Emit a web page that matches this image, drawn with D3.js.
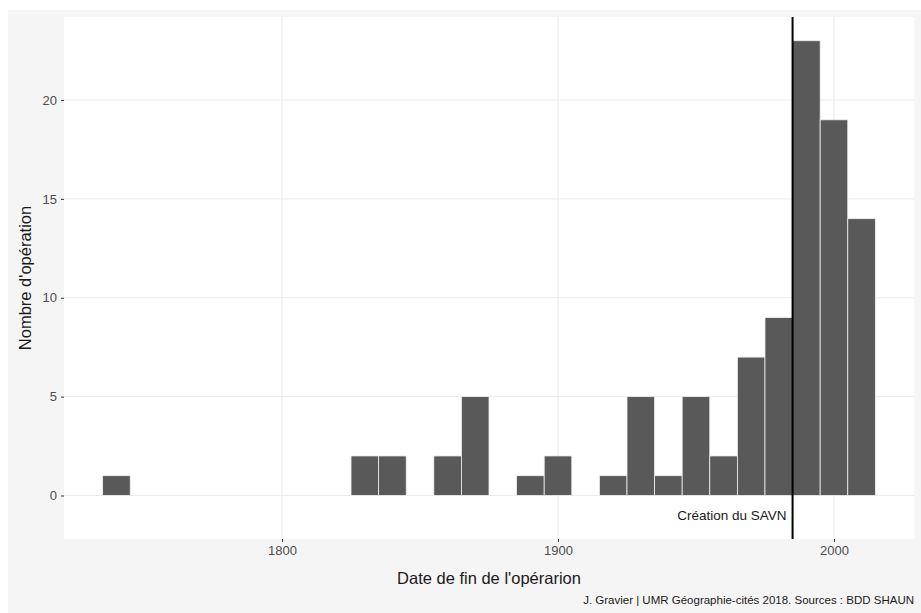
<!DOCTYPE html>
<html>
<head>
<meta charset="utf-8">
<script src="https://cdn.jsdelivr.net/npm/d3@7"></script>
<style>
  body { margin: 0; background: #fff; }
  svg { font-family: "Liberation Sans", Arial, sans-serif; }
</style>
</head>
<body>
<svg width="921" height="613"></svg>
<script>

// histogram bins, 10 years wide (start year of each bin)
let binStarts = [1735, 1825, 1835, 1855, 1865, 1885, 1895, 1915, 1925, 1935, 1945, 1955, 1965, 1975, 1985, 1995, 2005];
let counts    = [1,    2,    2,    2,    5,    1,    2,    1,    5,    1,    5,    2,    7,    9,    23,   19,   14];
let binWidth = 10;
let xTicks = [1800, 1900, 2000];
let yTicks = [0, 5, 10, 15, 20];
let savnYear = 1985;

let svg = d3.select('svg');

svg.append('rect')
   .attr('x', 8).attr('y', 10)
   .attr('width', 913).attr('height', 603)
   .attr('fill', '#f5f5f5');

let panelLeft = 64, panelRight = 914, panelTop = 17, panelBottom = 539;

svg.append('rect')
   .attr('x', panelLeft).attr('y', panelTop)
   .attr('width', panelRight - panelLeft).attr('height', panelBottom - panelTop)
   .attr('fill', '#ffffff');

let xScale = d3.scaleLinear()
               .domain([1721, 2029])
               .range([panelLeft, panelRight]);

let yScale = d3.scaleLinear()
               .domain([-2.2, 24.2])
               .range([panelBottom, panelTop]);

// grid
svg.append('g')
   .selectAll('line')
   .data(yTicks)
   .join('line')
   .attr('x1', panelLeft).attr('x2', panelRight)
   .attr('y1', d => yScale(d)).attr('y2', d => yScale(d))
   .attr('stroke', '#ebebeb')
   .attr('stroke-width', 1);

svg.append('g')
   .selectAll('line')
   .data(xTicks)
   .join('line')
   .attr('y1', panelTop).attr('y2', panelBottom)
   .attr('x1', d => xScale(d)).attr('x2', d => xScale(d))
   .attr('stroke', '#ebebeb')
   .attr('stroke-width', 1);

// bars
svg.append('g')
   .selectAll('rect')
   .data(binStarts)
   .join('rect')
   .attr('x', d => xScale(d))
   .attr('width', xScale(binStarts[0] + binWidth) - xScale(binStarts[0]))
   .attr('y', (d, i) => yScale(counts[i]))
   .attr('height', (d, i) => yScale(0) - yScale(counts[i]))
   .attr('fill', '#595959')
   .attr('stroke', '#f0f0f0')
   .attr('stroke-width', 0.8);

// SAVN line
svg.append('line')
   .attr('x1', xScale(savnYear)).attr('x2', xScale(savnYear))
   .attr('y1', panelTop).attr('y2', panelBottom)
   .attr('stroke', '#000')
   .attr('stroke-width', 2);

svg.append('text')
   .attr('x', xScale(savnYear) - 6)
   .attr('y', yScale(-1))
   .attr('dy', '0.35em')
   .attr('text-anchor', 'end')
   .attr('font-size', 13.5)
   .attr('fill', '#1a1a1a')
   .text('Création du SAVN');

// axes
let xAxis = d3.axisBottom(xScale)
              .tickValues(xTicks)
              .tickFormat(d3.format('d'))
              .tickSize(3)
              .tickPadding(4);

let xG = svg.append('g')
            .attr('transform', 'translate(0,' + panelBottom + ')')
            .call(xAxis);

let yAxis = d3.axisLeft(yScale)
              .tickValues(yTicks)
              .tickSize(3)
              .tickPadding(4);

let yG = svg.append('g')
            .attr('transform', 'translate(' + panelLeft + ',0)')
            .call(yAxis);

[xG, yG].forEach(g => {
  g.select('.domain').remove();
  g.selectAll('line').attr('stroke', '#333333');
  g.selectAll('text')
   .attr('fill', '#4d4d4d')
   .attr('font-size', 13)
   .attr('font-family', '"Liberation Sans", Arial, sans-serif');
});

svg.append('text')
   .attr('x', (panelLeft + panelRight) / 2)
   .attr('y', 584)
   .attr('text-anchor', 'middle')
   .attr('font-size', 16.5)
   .attr('fill', '#1a1a1a')
   .text("Date de fin de l'opérarion");

svg.append('text')
   .attr('transform', 'translate(31,' + ((panelTop + panelBottom) / 2) + ') rotate(-90)')
   .attr('text-anchor', 'middle')
   .attr('font-size', 16.5)
   .attr('fill', '#1a1a1a')
   .text("Nombre d'opération");

svg.append('text')
   .attr('x', panelRight)
   .attr('y', 604)
   .attr('text-anchor', 'end')
   .attr('font-size', 11.5)
   .attr('fill', '#1a1a1a')
   .text('J. Gravier | UMR Géographie-cités 2018. Sources : BDD SHAUN');

</script>
</body>
</html>
